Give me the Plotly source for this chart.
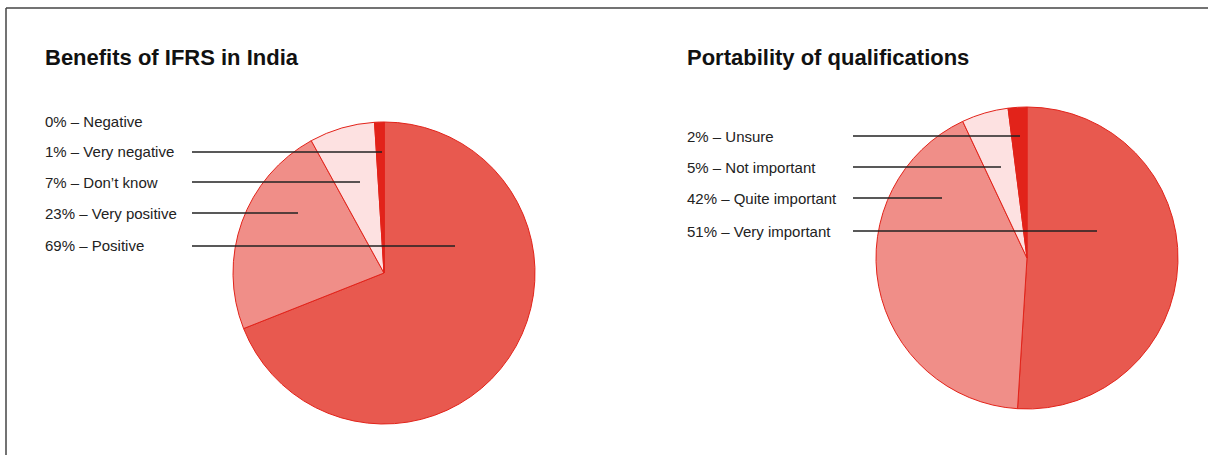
import plotly.graph_objects as go

W, H = 1208, 455

# Data
titles = ["Benefits of IFRS in India", "Portability of qualifications"]
ifrs_labels = ["Positive", "Very positive", "Don\u2019t know", "Very negative", "Negative"]
ifrs_values = [69, 23, 7, 1, 0]
port_labels = ["Very important", "Quite important", "Not important", "Unsure"]
port_values = [51, 42, 5, 2]

# legend order (top to bottom) as listed beside each pie
ifrs_legend_order = ["Negative", "Very negative", "Don\u2019t know", "Very positive", "Positive"]
port_legend_order = ["Unsure", "Not important", "Quite important", "Very important"]

ifrs_colors = ["#E8594F", "#F08E88", "#FDE1E1", "#E2231A", "#E2231A"]
port_colors = ["#E8594F", "#F08E88", "#FDE1E1", "#E2231A"]


def px(x):
    return x / W


def py(y):
    return 1 - y / H


fig = go.Figure()
fig.add_trace(go.Pie(
    labels=ifrs_labels, values=ifrs_values, sort=False, direction="clockwise",
    rotation=0, textinfo="none", hoverinfo="label+percent",
    marker=dict(colors=ifrs_colors, line=dict(color="#E2231A", width=1)),
    domain=dict(x=[px(233), px(535)], y=[py(424), py(122)]), showlegend=False,
))
fig.add_trace(go.Pie(
    labels=port_labels, values=port_values, sort=False, direction="clockwise",
    rotation=0, textinfo="none", hoverinfo="label+percent",
    marker=dict(colors=port_colors, line=dict(color="#E2231A", width=1)),
    domain=dict(x=[px(876), px(1178)], y=[py(409), py(107)]), showlegend=False,
))

annotations = []
shapes = []
FONT = "Liberation Sans, Arial, sans-serif"

# titles
for t, x in zip(titles, [43, 685]):
    annotations.append(dict(text="<b>%s</b>" % t, x=px(x), y=py(57), xref="paper", yref="paper",
                            xanchor="left", yanchor="middle", showarrow=False,
                            font=dict(family=FONT, size=22, color="#111")))

# left labels
ifrs_vals = dict(zip(ifrs_labels, ifrs_values))
left_y = [122, 152, 182, 213, 246]
left_end = [None, 382, 360, 298, 455]
for lab, y, xe in zip(ifrs_legend_order, left_y, left_end):
    annotations.append(dict(text="%d%% \u2013 %s" % (ifrs_vals[lab], lab), x=px(43), y=py(y),
                            xref="paper", yref="paper", xanchor="left", yanchor="middle",
                            showarrow=False, font=dict(family=FONT, size=15, color="#222")))
    if xe:
        shapes.append(dict(type="line", xref="paper", yref="paper", x0=px(192), x1=px(xe),
                           y0=py(y), y1=py(y), line=dict(color="#222", width=1.5)))

port_vals = dict(zip(port_labels, port_values))
right_y = [136, 167, 198, 231]
right_end = [1020, 1001, 942, 1097]
for lab, y, xe in zip(port_legend_order, right_y, right_end):
    annotations.append(dict(text="%d%% \u2013 %s" % (port_vals[lab], lab), x=px(685), y=py(y),
                            xref="paper", yref="paper", xanchor="left", yanchor="middle",
                            showarrow=False, font=dict(family=FONT, size=15, color="#222")))
    shapes.append(dict(type="line", xref="paper", yref="paper", x0=px(853), x1=px(xe),
                       y0=py(y), y1=py(y), line=dict(color="#222", width=1.5)))

# frame (top and left)
shapes.append(dict(type="line", xref="paper", yref="paper", x0=px(6), x1=1, y0=py(8), y1=py(8),
                   line=dict(color="#444", width=1.5)))
shapes.append(dict(type="line", xref="paper", yref="paper", x0=px(6), x1=px(6), y0=py(8), y1=0,
                   line=dict(color="#444", width=1.5)))

fig.update_layout(width=W, height=H, margin=dict(l=0, r=0, t=0, b=0),
                  paper_bgcolor="white", plot_bgcolor="white",
                  annotations=annotations, shapes=shapes)

fig.write_html("out.html")
